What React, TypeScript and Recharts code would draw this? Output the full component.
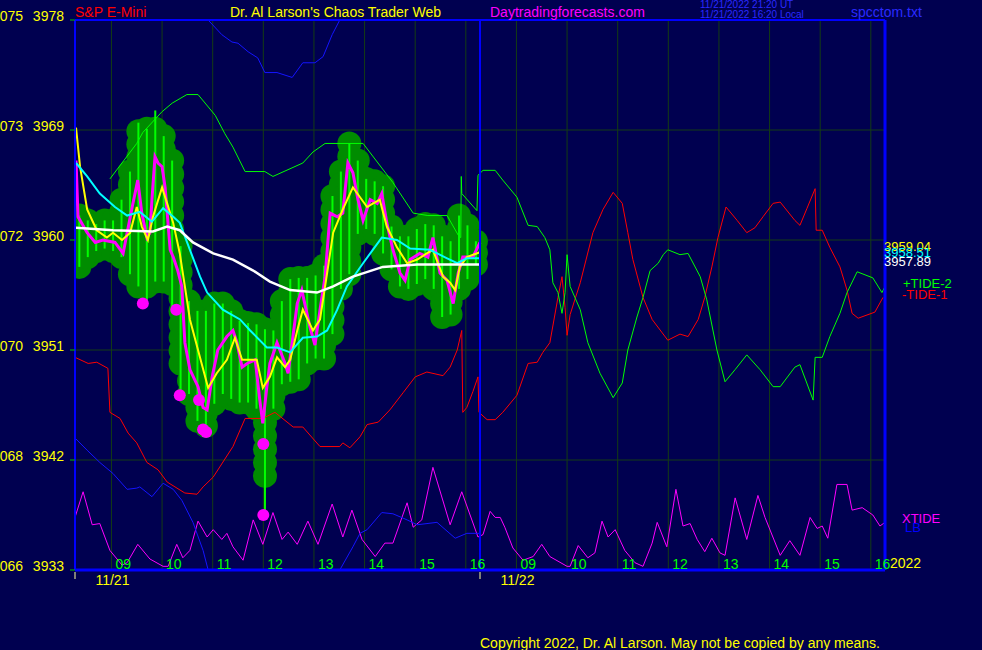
import React from "react"
import {
  ComposedChart,
  Line,
  Bar,
  Scatter,
  XAxis,
  YAxis,
  CartesianGrid,
  ReferenceLine
} from "recharts"

// ── Palette ──────────────────────────────────────────────────────────────────
const COLORS = {
  bg: "#000050",
  grid: "#143c14",
  frame: "#0000ff",
  axisText: "#ffff00",
  hourText: "#00ff00",
  tickMark: "#00c000",
  halo: "#008c00",
  bar: "#00ff00",
  close: "#ff00ff",
  fast: "#ffff00",
  mid: "#00ffff",
  slow: "#ffffff",
  tide2: "#00ff00",
  tide1: "#ff0000",
  xtide: "#ff00ff",
  lb: "#1414ff",
  stamp: "#2a2aff"
}
const FONT = "'Liberation Sans', Arial, sans-serif"

// ── Axes ─────────────────────────────────────────────────────────────────────
// time = hours since the 11/21 session open; 11/22 opens at 8
const DAY_LEN = 8
const NINE_OFFSET = 0.72
const days = ["11/21", "11/22"]
const hourLabels = ["09", "10", "11", "12", "13", "14", "15", "16"]
const priceTicks = [3933, 3942, 3951, 3960, 3969, 3978]
const tickCodes = ["066", "068", "070", "072", "073", "075"]

// ── Price bars, 10 minute spacing on 11/21 ───────────────────────────────────
const BAR_START = 0.08
const BAR_STEP = 1 / 6
const barHigh = [
  3962.0, 3961.6, 3961.3, 3961.6, 3961.6, 3963.3, 3965.6, 3968.9, 3969.1, 3969.1,
  3968.5, 3966.5, 3959.5, 3955.0, 3954.2, 3954.2, 3954.8, 3954.8, 3954.2, 3953.4,
  3953.2, 3953.1, 3952.7, 3952.6, 3955.0, 3956.8, 3956.9, 3956.9, 3957.1, 3957.9,
  3963.6, 3965.6, 3967.9, 3966.5, 3965.0, 3964.8, 3964.4, 3961.1, 3960.3, 3960.3,
  3960.9, 3961.3, 3961.2, 3960.3, 3959.9, 3962.0, 3961.2, 3959.9
]
const barLow = [
  3957.8, 3958.6, 3959.1, 3959.3, 3959.1, 3958.6, 3957.2, 3956.2, 3956.2, 3956.6,
  3956.6, 3956.4, 3949.9, 3947.4, 3945.2, 3944.8, 3946.6, 3947.4, 3947.0, 3946.7,
  3946.7, 3946.2, 3940.7, 3946.2, 3948.2, 3948.4, 3948.6, 3949.9, 3950.3, 3950.3,
  3952.3, 3956.0, 3957.2, 3960.5, 3960.9, 3960.5, 3958.9, 3957.6, 3956.2, 3956.0,
  3956.4, 3956.8, 3956.0, 3953.7, 3953.9, 3956.0, 3956.8, 3958.0
]
// [bar index, price] of tails reaching past the cluster
const wickLow: [number, number][] = [[8, 3954.8], [11, 3954.3], [12, 3947.3], [22, 3937.5]]
const wickHigh: [number, number][] = [[7, 3969.6], [9, 3970.6]]

const lowDots: [number, number][] = [
  [1.34, 3954.8], [2.0, 3954.3], [2.07, 3947.3], [2.45, 3946.9],
  [2.53, 3944.5], [2.59, 3944.3], [3.72, 3943.3], [3.72, 3937.5]
]

// ── Averages on 11/21 ────────────────────────────────────────────────────────
const closeLine: [number, number][] = [
  [0.02, 3966.5], [0.06, 3961.9], [0.24, 3960.6], [0.4, 3959.8], [0.55, 3960.0],
  [0.79, 3959.8], [0.95, 3958.9], [1.03, 3960.6], [1.13, 3962.7], [1.24, 3964.9],
  [1.32, 3962.2], [1.42, 3960.2], [1.48, 3960.6], [1.52, 3963.3], [1.58, 3966.8],
  [1.64, 3966.3], [1.72, 3966.0], [1.78, 3964.3], [1.88, 3959.2], [1.94, 3958.6],
  [2.03, 3957.5], [2.11, 3956.2], [2.17, 3951.6], [2.27, 3949.4], [2.43, 3948.0],
  [2.53, 3946.3], [2.61, 3946.1], [2.71, 3948.8], [2.82, 3951.0], [3.0, 3952.1],
  [3.12, 3952.6], [3.2, 3951.6], [3.3, 3949.6], [3.4, 3949.9], [3.56, 3950.2],
  [3.65, 3946.9], [3.71, 3945.0], [3.79, 3948.0], [3.85, 3949.9], [3.99, 3951.6],
  [4.15, 3949.9], [4.21, 3949.1], [4.39, 3954.8], [4.48, 3955.9], [4.64, 3952.9],
  [4.74, 3951.4], [4.84, 3954.3], [4.94, 3957.0], [5.04, 3962.2], [5.18, 3961.9],
  [5.29, 3962.2], [5.39, 3966.3], [5.49, 3965.5], [5.59, 3963.3], [5.69, 3961.6],
  [5.83, 3963.3], [5.97, 3963.0], [6.06, 3963.8], [6.16, 3961.4], [6.28, 3959.2],
  [6.42, 3957.3], [6.52, 3956.7], [6.62, 3958.4], [6.81, 3958.9], [6.97, 3958.6],
  [7.07, 3960.2], [7.21, 3957.3], [7.35, 3956.7], [7.47, 3954.8], [7.57, 3957.3],
  [7.66, 3958.6], [7.86, 3958.6], [8.0, 3959.8]
]
const fastAvg: [number, number][] = [
  [0.02, 3969.2], [0.1, 3966.0], [0.24, 3962.5], [0.43, 3960.8], [0.63, 3960.2],
  [0.75, 3960.6], [0.93, 3960.0], [1.09, 3960.6], [1.22, 3962.7], [1.32, 3961.1],
  [1.44, 3960.0], [1.54, 3961.9], [1.72, 3964.3], [1.82, 3963.0], [1.94, 3961.4],
  [2.07, 3958.9], [2.17, 3956.2], [2.27, 3953.5], [2.43, 3951.0], [2.63, 3947.9],
  [2.8, 3949.1], [3.0, 3950.2], [3.16, 3952.0], [3.3, 3950.2], [3.59, 3950.2],
  [3.71, 3947.9], [3.85, 3948.8], [3.99, 3950.4], [4.15, 3949.6], [4.25, 3950.2],
  [4.39, 3952.6], [4.5, 3954.3], [4.7, 3952.6], [4.84, 3953.5], [4.98, 3957.3],
  [5.1, 3960.6], [5.29, 3962.5], [5.49, 3964.3], [5.63, 3963.5], [5.77, 3962.7],
  [5.89, 3963.0], [6.02, 3963.3], [6.16, 3961.1], [6.36, 3959.4], [6.56, 3958.1],
  [6.76, 3958.4], [6.95, 3958.9], [7.07, 3959.2], [7.27, 3957.0], [7.41, 3956.5],
  [7.51, 3955.9], [7.6, 3957.8], [7.74, 3958.6], [8.0, 3959.0]
]
const midAvg: [number, number][] = [
  [0.02, 3966.3], [0.24, 3965.2], [0.49, 3963.8], [0.79, 3962.7], [1.03, 3962.0],
  [1.28, 3962.3], [1.52, 3961.5], [1.74, 3962.6], [1.94, 3961.9], [2.07, 3961.4],
  [2.27, 3959.2], [2.47, 3957.0], [2.61, 3955.7], [2.92, 3954.3], [3.26, 3953.5],
  [3.46, 3952.6], [3.79, 3951.2], [3.99, 3951.2], [4.25, 3950.8], [4.5, 3952.0],
  [4.78, 3952.1], [4.98, 3952.6], [5.18, 3954.3], [5.37, 3956.2], [5.69, 3958.1],
  [6.06, 3960.2], [6.36, 3960.0], [6.62, 3959.3], [7.01, 3959.2], [7.35, 3958.5],
  [7.55, 3958.1], [7.74, 3958.5], [8.0, 3958.5]
]
const slowAvg: [number, number][] = [
  [0.02, 3961.0], [0.75, 3960.8], [1.54, 3960.7], [1.82, 3961.1], [2.07, 3960.8],
  [2.33, 3959.8], [2.73, 3958.9], [3.12, 3958.4], [3.52, 3957.5], [3.85, 3956.6],
  [4.25, 3955.9], [4.78, 3955.7], [5.1, 3956.2], [5.49, 3957.0], [6.08, 3957.8],
  [6.76, 3958.0], [7.27, 3958.0], [8.0, 3958.0]
]

// ── Tide forecasts (both days) ───────────────────────────────────────────────
const tide2: [number, number][] = [
  [0.69, 3965.0], [1.22, 3967.9], [1.34, 3968.8], [1.72, 3970.5], [1.92, 3971.2],
  [2.21, 3971.9], [2.43, 3971.9], [2.77, 3970.2], [2.96, 3968.7], [3.12, 3967.6],
  [3.36, 3965.6], [3.75, 3965.6], [3.91, 3965.2], [4.5, 3966.3], [4.7, 3967.2],
  [4.94, 3967.9], [5.69, 3967.9], [6.28, 3964.7], [6.68, 3962.2], [6.97, 3962.0],
  [7.35, 3962.0], [7.57, 3960.4], [7.62, 3960.2], [7.63, 3965.2], [7.64, 3963.8],
  [7.94, 3962.4], [7.96, 3965.3], [8.06, 3965.7], [8.3, 3965.7], [8.45, 3964.9],
  [8.73, 3963.5], [8.95, 3961.2], [9.13, 3961.1], [9.28, 3960.2], [9.38, 3959.2],
  [9.44, 3956.5], [9.54, 3955.7], [9.62, 3954.0], [9.68, 3955.7], [9.72, 3958.8],
  [9.78, 3956.2], [9.98, 3954.3], [10.13, 3951.6], [10.37, 3949.1], [10.63, 3947.1],
  [10.81, 3948.3], [10.92, 3951.0], [11.1, 3953.7], [11.22, 3955.3], [11.36, 3957.5],
  [11.52, 3958.1], [11.62, 3958.8], [11.71, 3959.2], [11.95, 3958.8], [12.11, 3958.9],
  [12.35, 3957.0], [12.48, 3955.1], [12.68, 3951.0], [12.84, 3948.4], [13.04, 3949.4],
  [13.27, 3950.6], [13.53, 3949.4], [13.79, 3948.0], [13.93, 3948.0], [14.22, 3949.6],
  [14.32, 3949.8], [14.58, 3946.9], [14.62, 3950.4], [14.76, 3950.4], [14.91, 3952.1],
  [15.11, 3954.0], [15.25, 3955.7], [15.45, 3957.4], [15.76, 3956.9], [15.94, 3955.7],
  [16.0, 3956.2]
]
const tide1: [number, number][] = [
  [0, 3950.4], [0.26, 3949.9], [0.43, 3950.0], [0.65, 3949.5], [0.69, 3945.9],
  [0.89, 3945.4], [1.05, 3944.2], [1.22, 3943.4], [1.42, 3941.8], [1.64, 3941.2],
  [1.82, 3940.2], [2.17, 3939.3], [2.41, 3939.2], [2.53, 3939.8], [2.73, 3940.6],
  [3.12, 3943.1], [3.36, 3945.4], [3.71, 3945.4], [3.95, 3945.9], [4.31, 3944.7],
  [4.5, 3944.7], [4.84, 3943.1], [5.23, 3943.1], [5.29, 3943.4], [5.43, 3943.0],
  [5.63, 3943.9], [5.77, 3944.9], [5.99, 3945.1], [6.22, 3946.1], [6.48, 3947.5],
  [6.72, 3948.8], [6.95, 3949.2], [7.27, 3948.9], [7.41, 3949.6], [7.55, 3951.0],
  [7.64, 3952.6], [7.65, 3949.2], [7.66, 3945.9], [7.74, 3946.3], [7.86, 3947.6],
  [7.96, 3948.8], [7.98, 3945.9], [8.14, 3945.3], [8.3, 3945.3], [8.45, 3945.9],
  [8.73, 3947.3], [8.95, 3949.9], [9.13, 3950.0], [9.24, 3950.8], [9.38, 3951.6],
  [9.54, 3955.3], [9.62, 3957.0], [9.68, 3954.5], [9.72, 3952.2], [9.78, 3953.9],
  [9.98, 3956.5], [10.23, 3960.6], [10.43, 3962.5], [10.63, 3963.9], [10.81, 3963.0],
  [10.92, 3960.6], [11.02, 3958.4], [11.22, 3955.3], [11.4, 3953.5], [11.6, 3952.4],
  [11.71, 3951.8], [11.95, 3952.3], [12.11, 3952.1], [12.31, 3953.5], [12.44, 3955.3],
  [12.58, 3957.8], [12.7, 3960.2], [12.86, 3962.7], [13.08, 3961.6], [13.27, 3960.6],
  [13.43, 3961.0], [13.59, 3961.9], [13.79, 3963.0], [13.93, 3963.1], [14.22, 3961.6],
  [14.32, 3961.2], [14.46, 3962.6], [14.62, 3964.2], [14.64, 3960.8], [14.76, 3960.8],
  [14.91, 3959.4], [15.11, 3957.8], [15.25, 3955.9], [15.35, 3954.0], [15.47, 3953.6],
  [15.8, 3954.1], [15.96, 3955.3]
]
const xtide: [number, number][] = [
  [0, 3937.3], [0.16, 3939.4], [0.34, 3936.7], [0.49, 3936.8], [0.69, 3934.6],
  [0.93, 3933.4], [1.03, 3933.6], [1.24, 3935.1], [1.48, 3933.9], [1.74, 3933.3],
  [1.84, 3933.3], [2.01, 3935.1], [2.13, 3934.0], [2.27, 3934.6], [2.43, 3937.0],
  [2.61, 3935.7], [2.73, 3936.3], [2.9, 3935.5], [3.0, 3936.0], [3.12, 3934.9],
  [3.32, 3933.8], [3.52, 3937.1], [3.71, 3935.1], [3.91, 3937.7], [4.09, 3935.5],
  [4.21, 3936.1], [4.39, 3935.1], [4.6, 3937.0], [4.8, 3935.1], [5.08, 3938.4],
  [5.29, 3935.7], [5.47, 3937.9], [5.67, 3935.5], [5.93, 3934.1], [6.12, 3935.2],
  [6.28, 3935.2], [6.56, 3938.5], [6.68, 3936.5], [6.85, 3937.1], [7.07, 3941.4],
  [7.41, 3936.7], [7.64, 3939.4], [7.96, 3935.7], [8.06, 3935.9], [8.2, 3937.8],
  [8.3, 3937.3], [8.4, 3937.3], [8.49, 3936.5], [8.65, 3934.8], [8.85, 3933.8],
  [9.05, 3934.1], [9.22, 3935.1], [9.38, 3934.1], [9.72, 3933.3], [9.78, 3933.3],
  [9.94, 3935.0], [10.13, 3934.0], [10.27, 3934.4], [10.41, 3937.0], [10.53, 3935.7],
  [10.67, 3936.3], [10.86, 3934.6], [11.06, 3933.6], [11.22, 3933.3], [11.4, 3935.2],
  [11.5, 3936.9], [11.69, 3934.9], [11.87, 3939.6], [12.01, 3936.6], [12.15, 3936.8],
  [12.29, 3935.5], [12.44, 3934.5], [12.58, 3935.6], [12.74, 3934.4], [12.84, 3934.2],
  [13.04, 3938.9], [13.27, 3935.5], [13.49, 3939.1], [13.63, 3937.3], [13.93, 3934.2],
  [14.12, 3935.4], [14.32, 3934.2], [14.52, 3937.3], [14.66, 3936.4], [14.76, 3936.6],
  [14.87, 3935.6], [15.05, 3940.0], [15.25, 3940.0], [15.35, 3937.9], [15.55, 3938.1],
  [15.76, 3937.5], [15.9, 3936.6], [16.0, 3936.9]
]
// LB wraps from the bottom of the pane to the top and back again
const lbLow: [number, number][] = [
  [0, 3943.8], [0.24, 3942.8], [0.49, 3941.8], [0.75, 3940.9], [1.03, 3939.6],
  [1.22, 3939.7], [1.28, 3939.8], [1.52, 3939.0], [1.74, 3940.1], [1.94, 3939.6],
  [2.11, 3938.7], [2.33, 3936.9], [2.53, 3934.6], [2.63, 3933.0]
]
const lbWrapped: [number, number][] = [
  [2.63, 3978.0], [2.9, 3976.8], [3.1, 3976.2], [3.22, 3976.1], [3.42, 3975.4],
  [3.61, 3974.9], [3.75, 3973.7], [3.99, 3973.7], [4.29, 3973.3], [4.5, 3974.5],
  [4.74, 3974.5], [4.9, 3975.0], [5.08, 3976.8], [5.23, 3978.0]
]
const lbLate: [number, number][] = [
  [5.23, 3933.0], [5.49, 3934.9], [5.63, 3936.0], [5.77, 3936.3], [6.06, 3937.7],
  [6.28, 3937.6], [6.56, 3937.1], [6.76, 3936.7], [7.15, 3936.9], [7.51, 3935.6],
  [7.74, 3936.0], [8.0, 3936.0]
]

// ── Derived rows ─────────────────────────────────────────────────────────────
const pts = (a: [number, number][]) => a.map(([t, p]) => ({ t, p }))

const barRows = barHigh.map((hi, i) => {
  const lo = barLow[i]
  const wl = wickLow.find(w => w[0] === i)
  const wh = wickHigh.find(w => w[0] === i)
  return {
    t: BAR_START + i * BAR_STEP,
    hi,
    lo,
    whi: wh ? wh[1] : hi,
    wlo: wl ? wl[1] : lo
  }
})

const dayStarts = days.map((_, d) => d * DAY_LEN)
const hourTicks = days.flatMap((_, d) =>
  hourLabels.map((_, k) => d * DAY_LEN + NINE_OFFSET + k)
)
const xTicks = [...dayStarts, ...hourTicks]

// Halo: a chain of overlapping discs from bar high to bar low
const HALO_R = 12
const HALO_STEP = 14

const HaloShape = (props: any) => {
  const { x, y, width, height } = props
  if (x == null || y == null) return null
  const cx = x + width / 2
  const top = Math.min(y, y + height)
  const h = Math.abs(height)
  const n = Math.max(1, Math.ceil(h / HALO_STEP))
  const discs = []
  for (let k = 0; k <= n; k++) {
    discs.push(<circle key={k} cx={cx} cy={top + (h * k) / n} r={HALO_R} fill={COLORS.halo} />)
  }
  return <g>{discs}</g>
}

const StickShape = (props: any) => {
  const { x, y, width, height } = props
  if (x == null || y == null) return null
  const cx = x + width / 2
  const top = Math.min(y, y + height)
  return <rect x={cx - 1} y={top} width={2} height={Math.abs(height)} fill={COLORS.bar} />
}

const PriceTick = ({ x, y, payload }: any) => {
  const i = priceTicks.indexOf(payload.value)
  return (
    <g>
      <line x1={x - 5} x2={x} y1={y} y2={y} stroke={COLORS.tickMark} />
      <text x={x - 52} y={y + 1} textAnchor="end" fill={COLORS.axisText} fontSize={14} fontFamily={FONT}>
        {tickCodes[i]}
      </text>
      <text x={x - 11} y={y + 1} textAnchor="end" fill={COLORS.axisText} fontSize={14} fontFamily={FONT}>
        {payload.value}
      </text>
    </g>
  )
}

const HourTick = ({ x, y, payload }: any) => {
  const v = payload.value
  if (dayStarts.some(s => Math.abs(s - v) < 1e-6)) {
    return <line x1={x} x2={x} y1={y + 2} y2={y + 9} stroke="#ffffa0" />
  }
  const idx = hourTicks.findIndex(h => Math.abs(h - v) < 1e-6)
  const label = hourLabels[idx % hourLabels.length]
  const day = Math.floor(idx / hourLabels.length)
  return (
    <g>
      <text x={x + 4} y={y - 1} fill={COLORS.hourText} fontSize={14} fontFamily={FONT}>
        {label}
      </text>
      {idx % hourLabels.length === 0 && (
        <text x={x + 1} y={y + 15} textAnchor="middle" fill={COLORS.axisText} fontSize={14} fontFamily={FONT}>
          {days[day]}
        </text>
      )}
    </g>
  )
}

const Label = ({ left, top, color, size = 14, children }: any) => (
  <div
    style={{
      position: "absolute",
      left,
      top,
      color,
      fontSize: size,
      lineHeight: `${size}px`,
      fontFamily: FONT,
      whiteSpace: "nowrap"
    }}
  >
    {children}
  </div>
)

const lineBase = {
  type: "linear" as const,
  dot: false as const,
  activeDot: false as const,
  isAnimationActive: false,
  xAxisId: 0
}

export default function App() {
  return (
    <div
      style={{
        position: "absolute",
        left: 0,
        top: 0,
        width: 982,
        height: 650,
        background: COLORS.bg,
        overflow: "hidden"
      }}
    >
      <ComposedChart
        width={982}
        height={650}
        data={barRows}
        margin={{ top: 20, right: 97, bottom: 0, left: 0 }}
      >
        <XAxis
          xAxisId={0}
          dataKey="t"
          type="number"
          domain={[0, 16]}
          ticks={xTicks}
          interval={0}
          allowDataOverflow
          height={80}
          axisLine={false}
          tickLine={false}
          tickSize={0}
          tickMargin={0}
          tick={<HourTick />}
        />
        <XAxis xAxisId="cap" dataKey="t" type="number" domain={[0, 16]} hide allowDataOverflow />
        <XAxis xAxisId="stick" dataKey="t" type="number" domain={[0, 16]} hide allowDataOverflow />
        <YAxis
          domain={[3933, 3978]}
          ticks={priceTicks}
          interval={0}
          allowDataOverflow
          width={75}
          axisLine={false}
          tickLine={false}
          tickSize={0}
          tickMargin={0}
          tick={<PriceTick />}
        />
        <CartesianGrid xAxisId={0} stroke={COLORS.grid} strokeWidth={1} />

        <Line {...lineBase} data={pts(xtide)} dataKey="p" stroke={COLORS.xtide} strokeWidth={1} />
        <Line {...lineBase} data={pts(lbLow)} dataKey="p" stroke={COLORS.lb} strokeWidth={1} />
        <Line {...lineBase} data={pts(lbWrapped)} dataKey="p" stroke={COLORS.lb} strokeWidth={1} />
        <Line {...lineBase} data={pts(lbLate)} dataKey="p" stroke={COLORS.lb} strokeWidth={1} />
        <Line {...lineBase} data={pts(tide1)} dataKey="p" stroke={COLORS.tide1} strokeWidth={1} />
        <Line {...lineBase} data={pts(tide2)} dataKey="p" stroke={COLORS.tide2} strokeWidth={1} />

        <Bar
          xAxisId="cap"
          dataKey={(d: any) => [d.lo, d.hi]}
          barSize={3}
          shape={<HaloShape />}
          isAnimationActive={false}
        />
        <Bar
          xAxisId="stick"
          dataKey={(d: any) => [d.wlo, d.whi]}
          barSize={3}
          shape={<StickShape />}
          isAnimationActive={false}
        />

        <Line {...lineBase} data={pts(closeLine)} dataKey="p" stroke={COLORS.close} strokeWidth={3} />
        <Line {...lineBase} data={pts(fastAvg)} dataKey="p" stroke={COLORS.fast} strokeWidth={2} />
        <Line {...lineBase} data={pts(midAvg)} dataKey="p" stroke={COLORS.mid} strokeWidth={2} />
        <Line {...lineBase} data={pts(slowAvg)} dataKey="p" stroke={COLORS.slow} strokeWidth={2.5} />

        <Scatter
          xAxisId={0}
          data={pts(lowDots)}
          dataKey="p"
          isAnimationActive={false}
          shape={(p: any) => <circle cx={p.cx} cy={p.cy} r={6} fill={COLORS.close} />}
        />

        <ReferenceLine xAxisId={0} x={0} stroke={COLORS.frame} strokeWidth={2} />
        <ReferenceLine xAxisId={0} x={DAY_LEN} stroke={COLORS.frame} strokeWidth={2} />
        <ReferenceLine xAxisId={0} x={DAY_LEN * 2} stroke={COLORS.frame} strokeWidth={3} />
        <ReferenceLine xAxisId={0} y={3978} stroke={COLORS.frame} strokeWidth={2} />
        <ReferenceLine xAxisId={0} y={3933} stroke={COLORS.frame} strokeWidth={3} />
      </ComposedChart>

      <Label left={75} top={5} color="#ff0000">S&amp;P E-Mini</Label>
      <Label left={230} top={5} color="#ffff00">Dr. Al Larson's Chaos Trader Web</Label>
      <Label left={490} top={5} color="#ff00ff">Daytradingforecasts.com</Label>
      <Label left={700} top={0} color={COLORS.stamp} size={10}>11/21/2022 21:20 UT</Label>
      <Label left={700} top={10} color={COLORS.stamp} size={10}>11/21/2022 16:20 Local</Label>
      <Label left={851} top={5} color={COLORS.stamp}>spcctom.txt</Label>

      <Label left={884} top={240} color={COLORS.fast} size={13}>3959.04</Label>
      <Label left={884} top={246} color={COLORS.mid} size={13}>3958.51</Label>
      <Label left={884} top={255} color={COLORS.slow} size={13}>3957.89</Label>
      <Label left={903} top={277} color={COLORS.tide2} size={13}>+TIDE-2</Label>
      <Label left={902} top={288} color={COLORS.tide1} size={13}>-TIDE-1</Label>
      <Label left={902} top={512} color={COLORS.xtide} size={13}>XTIDE</Label>
      <Label left={905} top={521} color={COLORS.frame} size={13}>LB</Label>
      <Label left={890} top={556} color="#ffff00">2022</Label>

      <Label left={480} top={636} color="#ffff00">
        Copyright 2022, Dr. Al Larson. May not be copied by any means.
      </Label>
    </div>
  )
}
